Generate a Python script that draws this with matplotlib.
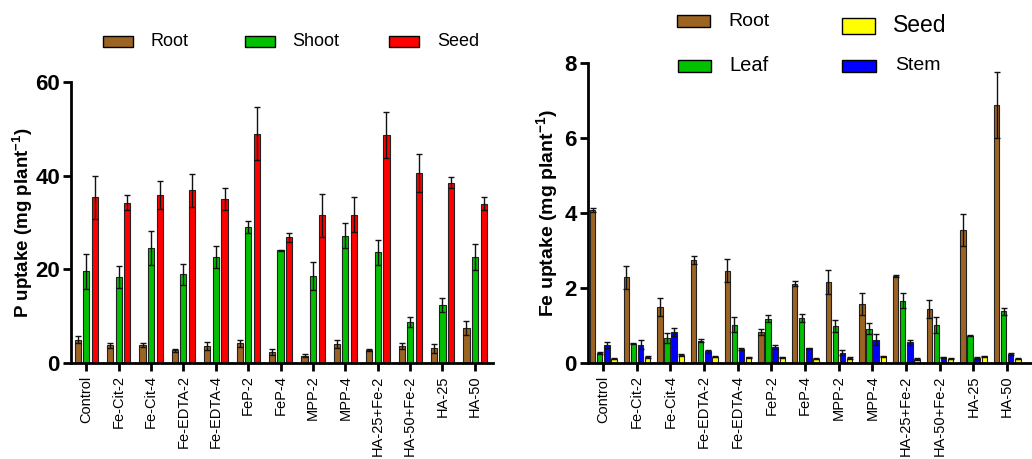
import numpy as np
import matplotlib.pyplot as plt
from matplotlib.patches import Rectangle

plt.rcParams['font.family'] = ['Liberation Sans', 'DejaVu Sans']
plt.rcParams['mathtext.default'] = 'regular'

W, H = 1032, 459

treatments = ["Control", "Fe-Cit-2", "Fe-Cit-4", "Fe-EDTA-2", "Fe-EDTA-4", "FeP-2", "FeP-4",
              "MPP-2", "MPP-4", "HA-25+Fe-2", "HA-50+Fe-2", "HA-25", "HA-50"]

# P uptake (mg plant-1)
p_root = [5.0, 3.8, 3.8, 2.7, 3.6, 4.2, 2.3, 1.6, 4.1, 2.7, 3.6, 3.1, 7.5]
p_root_err = [0.7, 0.5, 0.4, 0.3, 0.9, 0.8, 0.6, 0.3, 0.8, 0.2, 0.6, 1.0, 1.5]
p_shoot = [19.6, 18.4, 24.6, 18.9, 22.6, 29.1, 24.1, 18.6, 27.2, 23.6, 8.8, 12.4, 22.7]
p_shoot_err = [3.7, 2.4, 3.6, 2.3, 2.4, 1.3, 0.1, 3.0, 2.6, 2.6, 1.1, 1.5, 2.8]
p_seed = [35.4, 34.2, 35.9, 36.9, 35.0, 49.0, 26.8, 31.5, 31.7, 48.7, 40.6, 38.5, 34.0]
p_seed_err = [4.6, 1.6, 3.0, 3.5, 2.4, 5.6, 1.0, 4.6, 3.8, 4.9, 4.1, 1.2, 1.4]

# Fe uptake (mg plant-1)
fe_root = [4.09, 2.29, 1.49, 2.75, 2.46, 0.83, 2.12, 2.15, 1.58, 2.32, 1.44, 3.54, 6.89]
fe_root_err = [0.05, 0.31, 0.24, 0.10, 0.31, 0.08, 0.07, 0.32, 0.30, 0.02, 0.23, 0.43, 0.88]
fe_leaf = [0.27, 0.52, 0.67, 0.60, 1.02, 1.18, 1.20, 1.00, 0.92, 1.66, 1.02, 0.73, 1.38]
fe_leaf_err = [0.03, 0.02, 0.14, 0.04, 0.20, 0.09, 0.10, 0.16, 0.14, 0.20, 0.22, 0.02, 0.10]
fe_stem = [0.48, 0.49, 0.83, 0.31, 0.37, 0.42, 0.39, 0.28, 0.62, 0.55, 0.15, 0.13, 0.24]
fe_stem_err = [0.09, 0.12, 0.10, 0.05, 0.02, 0.05, 0.01, 0.06, 0.15, 0.07, 0.02, 0.03, 0.02]
fe_seed = [0.12, 0.16, 0.22, 0.17, 0.15, 0.15, 0.12, 0.13, 0.18, 0.11, 0.12, 0.18, 0.12]
fe_seed_err = [0.02, 0.02, 0.02, 0.02, 0.02, 0.02, 0.02, 0.02, 0.02, 0.02, 0.02, 0.02, 0.02]

BROWN = '#9c6423'
GREEN = '#00c000'
RED = '#ff0000'
YELLOW = '#ffff00'
BLUE = '#0000ff'


def style_axis(ax):
    ax.spines['top'].set_visible(False)
    ax.spines['right'].set_visible(False)
    ax.spines['left'].set_linewidth(2)
    ax.spines['bottom'].set_linewidth(2)
    ax.tick_params(axis='both', direction='out', length=6, width=2)
    ax.tick_params(axis='y', labelsize=16, pad=2)
    ax.tick_params(axis='x', labelsize=10.5, rotation=90, pad=3)
    for lab in ax.get_yticklabels():
        lab.set_fontweight('bold')


def draw_bars(ax, series, offsets, width):
    x = np.arange(len(treatments))
    for (vals, errs, color), off in zip(series, offsets):
        ax.bar(x + off, vals, width, color=color, edgecolor='#222222', linewidth=0.8,
               yerr=errs, error_kw=dict(ecolor='#111111', elinewidth=1, capsize=2, capthick=1))
    ax.set_xticks(x)
    ax.set_xticklabels(treatments)


def legend_item(fig, x, y, w, h, color, label, text_x, size):
    # positions given in pixels from the top-left corner
    fig.add_artist(Rectangle((x / W, 1 - (y + h) / H), w / W, h / H, facecolor=color,
                             edgecolor='black', linewidth=1, transform=fig.transFigure))
    fig.text(text_x / W, 1 - (y + h / 2) / H, label, fontsize=size, va='center')


fig = plt.figure(figsize=(W / 100, H / 100), dpi=100)

# left panel: P uptake
ax1 = fig.add_axes([71 / W, 1 - 363 / H, 422 / W, 281 / H])
draw_bars(ax1, [(p_root, p_root_err, BROWN), (p_shoot, p_shoot_err, GREEN), (p_seed, p_seed_err, RED)],
          [-0.26, 0.0, 0.27], 0.19)
ax1.set_ylim(0, 60)
ax1.set_yticks([0, 20, 40, 60])
ax1.set_xlim(-0.47, 12.56)
ax1.set_ylabel('P uptake (mg plant$^{-1}$)', fontsize=13.5, fontweight='bold', labelpad=0)
style_axis(ax1)

# right panel: Fe uptake
ax2 = fig.add_axes([588 / W, 1 - 363 / H, 444 / W, 300 / H])
draw_bars(ax2, [(fe_root, fe_root_err, BROWN), (fe_leaf, fe_leaf_err, GREEN),
                (fe_stem, fe_stem_err, BLUE), (fe_seed, fe_seed_err, YELLOW)],
          [-0.31, -0.1, 0.11, 0.32], 0.16)
ax2.set_ylim(0, 8)
ax2.set_yticks([0, 2, 4, 6, 8])
ax2.set_xlim(-0.45, 12.74)
ax2.set_ylabel('Fe uptake (mg plant$^{-1}$)', fontsize=14, fontweight='bold', labelpad=3)
style_axis(ax2)

# legends
legend_item(fig, 103, 36, 30, 11, BROWN, 'Root', 150, 13)
legend_item(fig, 245, 36, 30, 11, GREEN, 'Shoot', 292, 13)
legend_item(fig, 389, 36, 30, 11, RED, 'Seed', 437, 13)

legend_item(fig, 677, 15, 33, 12, BROWN, 'Root', 728, 14)
legend_item(fig, 842, 18, 33, 16, YELLOW, 'Seed', 893, 16.5)
legend_item(fig, 678, 60, 33, 12, GREEN, 'Leaf', 729, 14.5)
legend_item(fig, 842, 60, 34, 12, BLUE, 'Stem', 895, 14)

fig.savefig('out.png', dpi=100)
